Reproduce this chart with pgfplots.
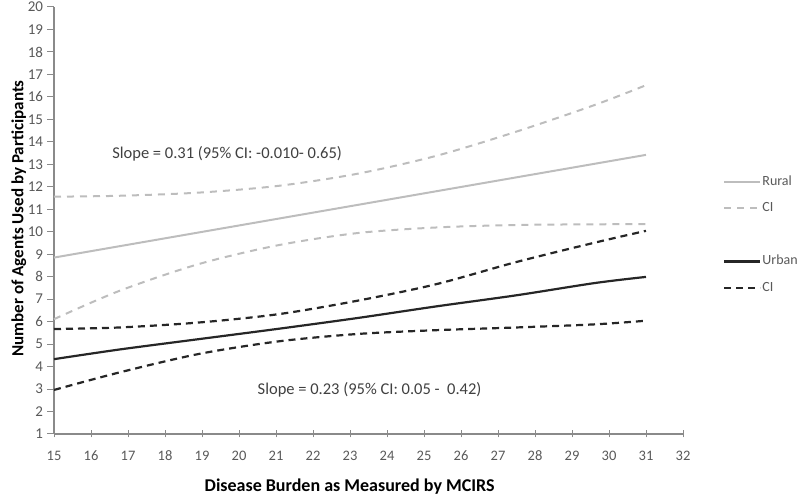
\documentclass[border=0pt]{standalone}
\usepackage{fontspec}
\setmainfont{Carlito}
\usepackage{pgfplots}
\pgfplotsset{compat=1.18}
\definecolor{rural}{HTML}{BDBDBD}
\definecolor{urban}{HTML}{262626}
\definecolor{axisgray}{HTML}{8A8A8A}
\definecolor{ticktext}{HTML}{595959}
\definecolor{notetext}{HTML}{404040}
\begin{document}
\begin{tikzpicture}[x=1bp,y=1bp]
\useasboundingbox (0,0) rectangle (800,502);
\begin{axis}[
  at={(54bp,68bp)}, anchor=south west,
  scale only axis, width=629bp, height=427bp,
  xmin=15, xmax=32, ymin=1, ymax=20,
  xtick={15,...,32}, ytick={1,...,20},
  axis x line*=bottom, axis y line*=left,
  axis line style={axisgray, line width=1.3bp},
  tick align=center,
  major tick length=7bp,
  xtick style={axisgray, line width=1bp},
  ytick style={axisgray, line width=1bp, xshift=-3.5bp},
  /pgf/number format/assume math mode=true,
  xticklabel style={font=\fontsize{14.5bp}{17bp}\selectfont, color=ticktext, anchor=north, yshift=-10bp},
  yticklabel style={font=\fontsize{15bp}{17bp}\selectfont, color=ticktext, anchor=east, xshift=-4bp},
  xlabel={\textbf{Disease Burden as Measured by MCIRS}},
  ylabel={\textbf{Number of Agents Used by Participants}},
  xlabel style={font=\fontsize{18bp}{21bp}\selectfont, color=black, at={(axis description cs:0.47,-0.124)}, anchor=center},
  ylabel style={font=\fontsize{17bp}{20bp}\selectfont, color=black, at={(axis description cs:-0.056,0.505)}, anchor=center},
  legend style={draw=none, fill=none, at={(axis description cs:1.0636,0.609)}, anchor=north west,
    font=\fontsize{14bp}{16bp}\selectfont, text=ticktext,
    row sep=11bp, inner sep=0pt,
    nodes={inner sep=1bp, text height=10bp, text depth=3.5bp}},
  legend cell align=left,
  legend image code/.code={\draw[#1] (0bp,0bp) -- (36bp,0bp);},
  clip=false,
]
\addplot[rural, line width=2bp] coordinates {(15,8.85) (31,13.42)};
\addlegendentry{Rural}
\addplot[rural, line width=2bp, dash pattern=on 7bp off 6bp, smooth] coordinates {
(15,11.56) (16.77,11.6) (18.91,11.74) (21.06,12.04) (23.20,12.58) (25.34,13.38) (27.49,14.45) (29.63,15.65) (31,16.52)};
\addlegendentry{CI}
\addplot[rural, line width=2bp, dash pattern=on 7bp off 6bp, smooth, forget plot] coordinates {
(15,6.11) (16.77,7.37) (18.91,8.56) (21.06,9.40) (23.20,9.94) (25.34,10.19) (27.49,10.30) (29.63,10.33) (31,10.34)};
\addlegendimage{empty legend}
\addlegendentry{}
\addplot[urban, line width=2.2bp, smooth] coordinates {
(15,4.33) (16.77,4.76) (18.91,5.22) (21.06,5.68) (23.20,6.16) (25.34,6.68) (27.49,7.17) (29.63,7.72) (31,7.99)};
\addlegendentry{Urban}
\addplot[urban, line width=2.2bp, dash pattern=on 7bp off 5bp, smooth] coordinates {
(15,5.67) (16.77,5.74) (18.91,5.96) (21.06,6.33) (23.20,6.93) (25.34,7.67) (27.49,8.65) (29.63,9.52) (31,10.04)};
\addlegendentry{CI}
\addplot[urban, line width=2.2bp, dash pattern=on 7bp off 5bp, smooth, forget plot] coordinates {
(15,2.96) (16.77,3.74) (18.91,4.56) (21.06,5.12) (23.20,5.45) (25.34,5.62) (27.49,5.74) (29.63,5.88) (31,6.04)};
\node[anchor=west, font=\fontsize{16.5bp}{19bp}\selectfont, text=notetext, inner sep=0pt] at (axis cs:16.57,13.45) {Slope = 0.31 (95\% CI: -0.010- 0.65)};
\node[anchor=west, font=\fontsize{16.5bp}{19bp}\selectfont, text=notetext, inner sep=0pt] at (axis cs:20.5,2.96) {Slope = 0.23 (95\% CI: 0.05 -\ \ 0.42)};
\end{axis}
\end{tikzpicture}
\end{document}
